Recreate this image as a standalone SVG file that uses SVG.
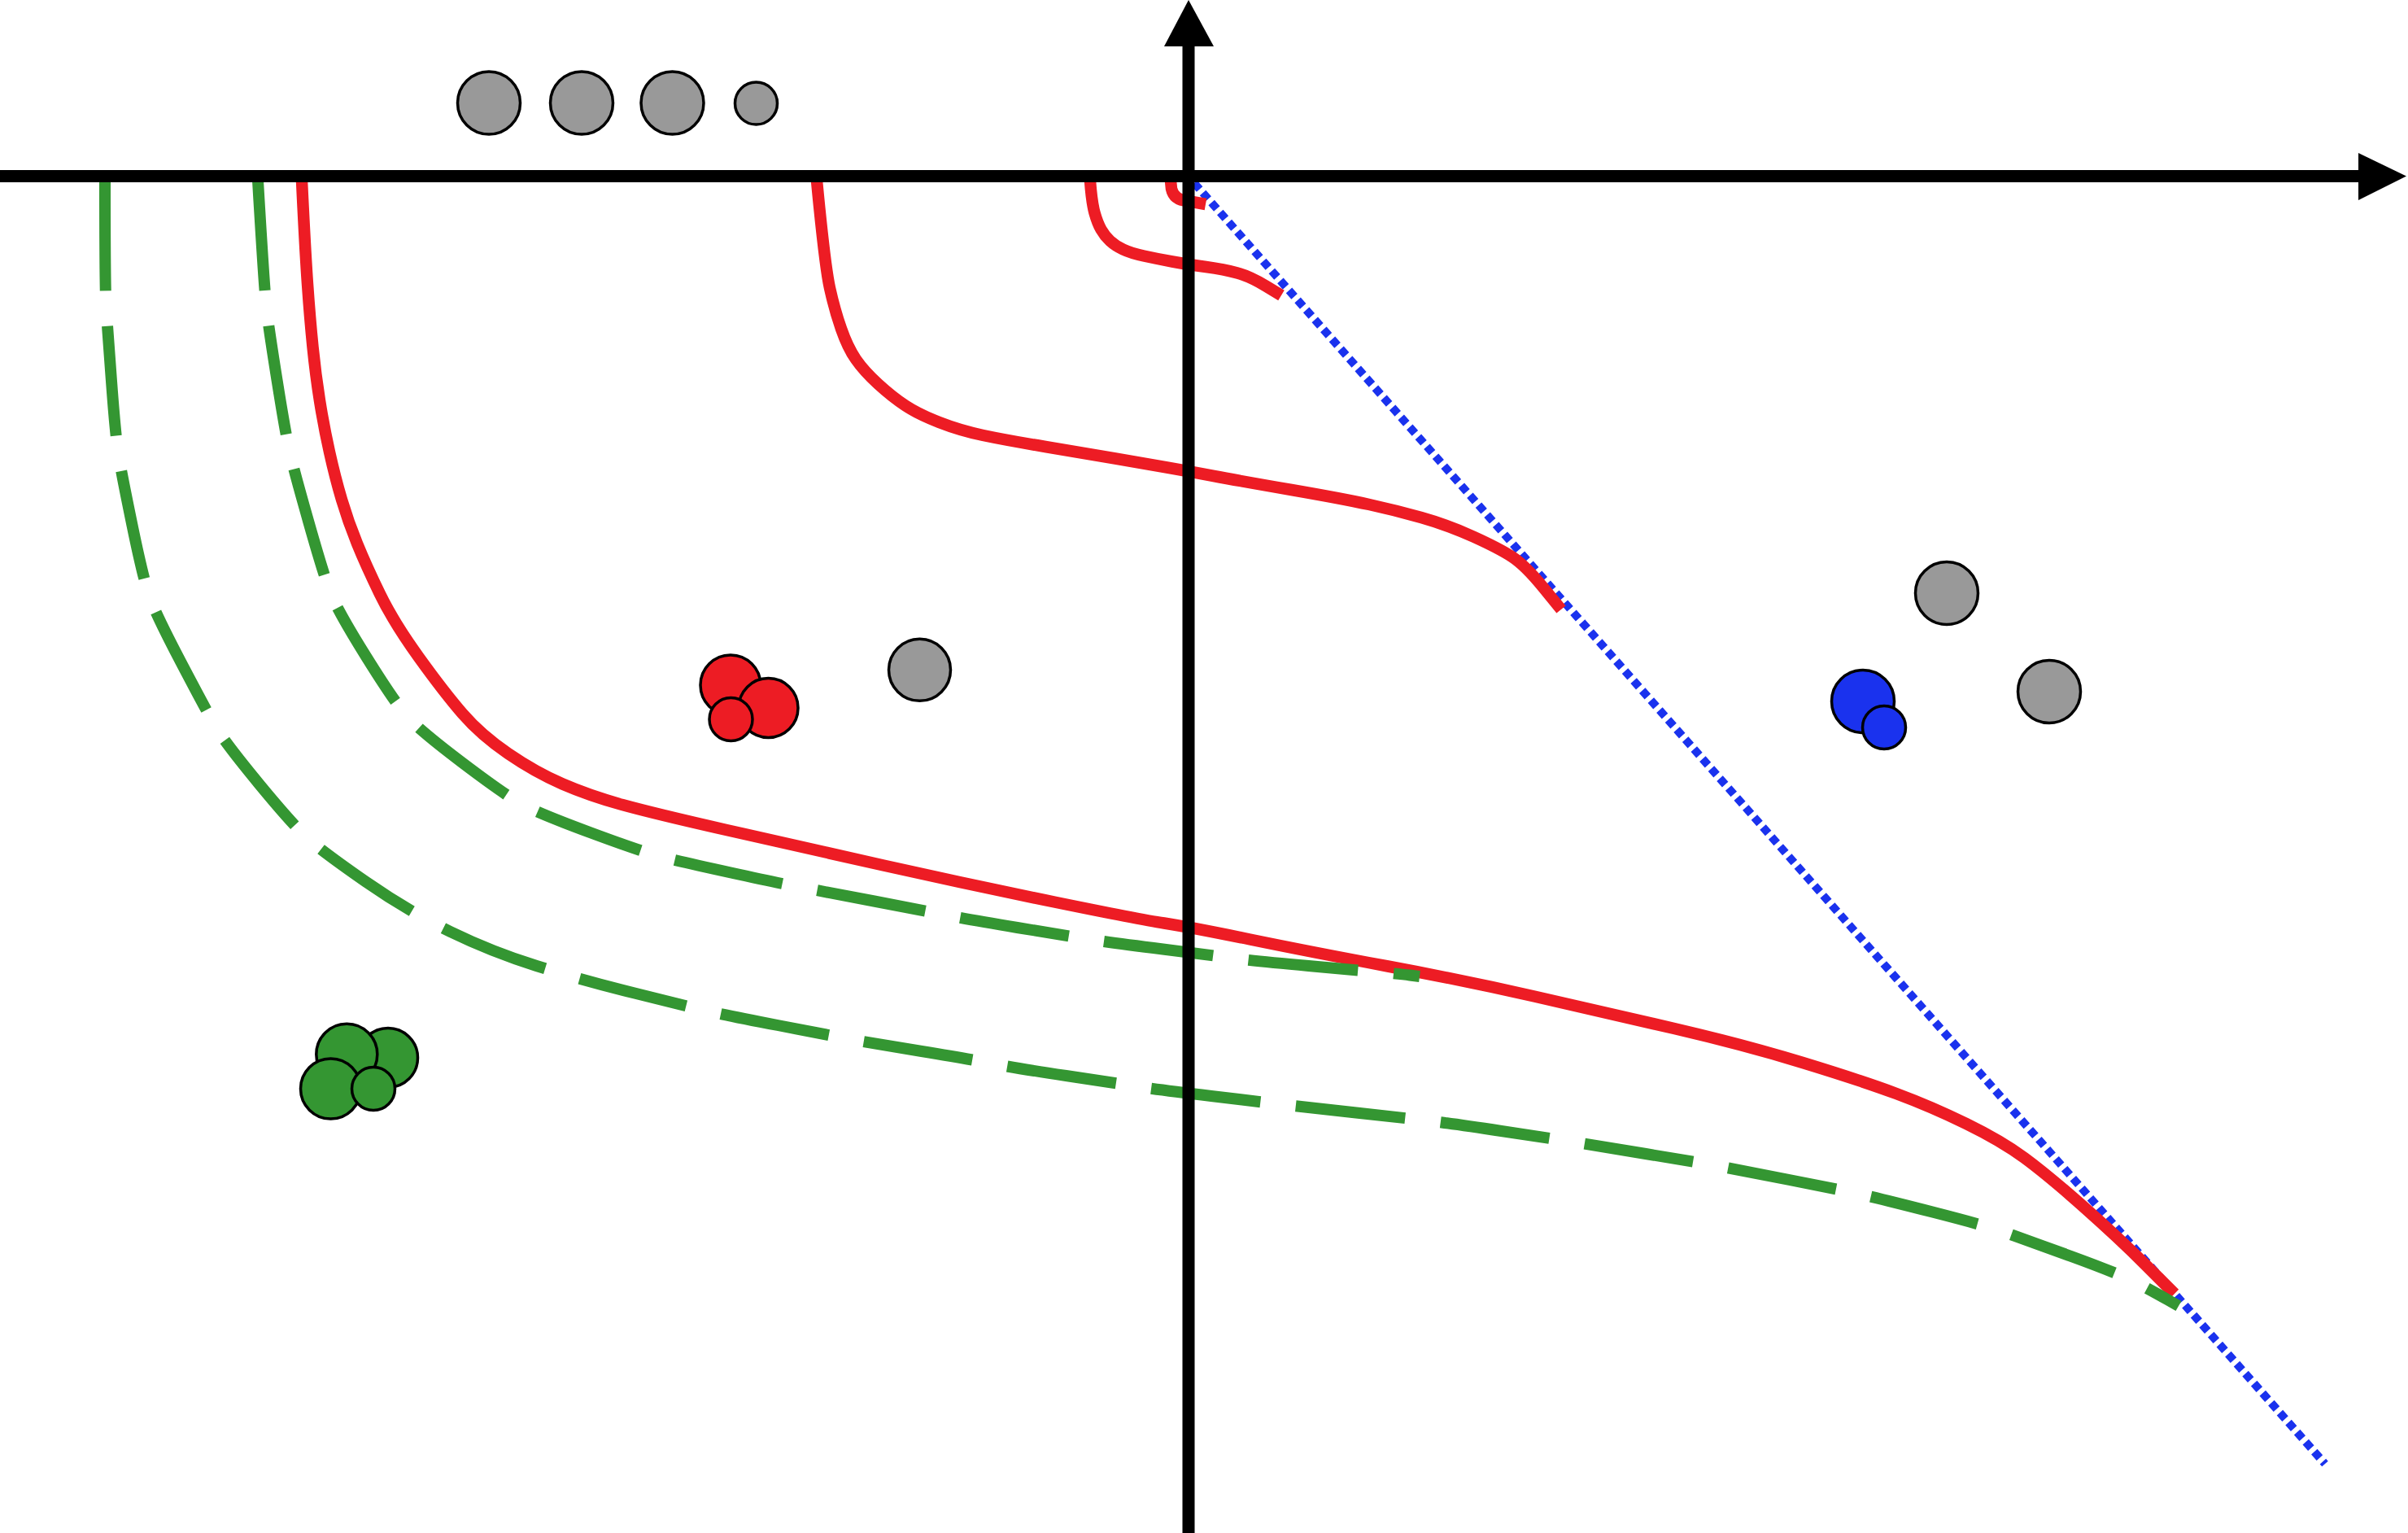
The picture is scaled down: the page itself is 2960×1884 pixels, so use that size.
<svg xmlns="http://www.w3.org/2000/svg" width="2960" height="1884" viewBox="0 0 2960 1884">
<style>
.c{stroke:#000;stroke-width:3.5}
.grey{fill:#999999}
.red{fill:#ED1C24}
.blue{fill:#1A32EE}
.green{fill:#349632}
.rc{fill:none;stroke:#ED1C24;stroke-width:14.5;stroke-linejoin:round}
.gc{fill:none;stroke:#349632;stroke-width:14;stroke-dasharray:135 44}
.bc{fill:none;stroke:#1A32EE;stroke-width:10;stroke-dasharray:10 6}
.ax{stroke:#000;stroke-width:15;fill:none}
</style>
<rect width="2960" height="1884" fill="#fff"/>
<g id="connectors">
<path class="bc" d="M1468,225 L2858,1799"/>
<path class="rc" d="M371,222 Q375,306 378,349 Q381,392 384.5,426.5 Q388,461 393,492.5 Q398,524 405,555.5 Q412,587 420,614 Q428,641 439,668 Q450,695 467,730 Q484,765 515,808 Q546,851 568.5,877 Q591,903 624.5,926 Q658,949 691.5,963.5 Q725,978 765,989 Q805,1000 893,1020 Q981,1040 1086,1063.5 Q1191,1087 1296,1108.5 Q1401,1130 1431,1134.5 Q1461,1139 1536.5,1154.5 Q1612,1170 1706,1187.5 Q1800,1205 1886,1224.5 Q1972,1244 2058,1264 Q2144,1284 2216,1306 Q2288,1328 2331,1344 Q2374,1360 2417,1381 Q2460,1402 2488.5,1423 Q2517,1444 2560.5,1482.5 Q2604,1521 2638.5,1555.5 L2673,1590"/>
<path class="rc" d="M1004,222 Q1014,327 1020,354 Q1026,381 1034,404 Q1042,427 1052,441.5 Q1062,456 1079.5,472 Q1097,488 1113,498.5 Q1129,509 1154.5,519 Q1180,529 1208.5,535 Q1237,541 1285,549 Q1333,557 1371,563.5 Q1409,570 1434.5,574.5 Q1460,579 1492,585 Q1524,591 1587.5,602 Q1651,613 1683,620 Q1715,627 1747,636 Q1779,645 1811,659.5 Q1843,674 1859,684.5 Q1875,695 1897,722 L1919,749"/>
<path class="rc" d="M1340,222 Q1342,249 1345.5,261.5 Q1349,274 1353.5,282 Q1358,290 1364.5,296 Q1371,302 1380.5,306.5 Q1390,311 1406,314.5 Q1422,318 1441,321.5 Q1460,325 1482.5,328 Q1505,331 1521,335.5 Q1537,340 1556,351.5 L1575,363"/>
<path class="rc" d="M1439,222 L1440,232 Q1443,246 1460,247 L1482,251"/>
<path class="gc" d="M129,222 Q129,357 130.5,379 Q132,401 137,468.5 Q142,536 145.5,558 Q149,580 162.5,645.5 Q176,711 183.5,732.5 Q191,754 222.5,814 Q254,874 265,893 Q276,912 318.5,963.5 Q361,1015 379,1031 Q397,1047 449.5,1083.5 Q502,1120 553.5,1145 Q605,1170 659.5,1187 Q714,1204 780,1220.5 Q846,1237 867.5,1242 Q889,1247 956,1260 Q1023,1273 1044.5,1277 Q1066,1281 1133,1292 Q1200,1303 1222,1307.5 Q1244,1312 1310.5,1322 Q1377,1332 1399.5,1335.5 Q1422,1339 1489,1347 Q1556,1355 1577.5,1357.5 Q1599,1360 1667,1367.5 Q1735,1375 1757,1377.5 Q1779,1380 1845.5,1390 Q1912,1400 1934,1403.5 Q1956,1407 2023,1418 Q2090,1429 2111.5,1433 Q2133,1437 2199.5,1450 Q2266,1463 2288.5,1468 Q2311,1473 2375.5,1489.5 Q2440,1506 2461.5,1513.5 Q2483,1521 2546,1544 Q2609,1567 2629.5,1578 Q2650,1589 2664,1597 L2678,1605"/>
<path class="gc" d="M317,222 Q325,357 327.5,379 Q330,401 340.5,467 Q351,533 356,555 Q361,577 379.5,642 Q398,707 406,728 Q414,749 449.5,806 Q485,863 500,880 Q515,897 568.5,937.5 Q622,978 642.5,989 Q663,1000 726.5,1023.5 Q790,1047 811,1052.5 Q832,1058 898.5,1072.5 Q965,1087 987,1091 Q1009,1095 1074.5,1107.5 Q1140,1120 1162,1124.5 Q1184,1129 1250.5,1140 Q1317,1151 1340,1154.5 Q1363,1158 1429.5,1166.5 Q1496,1175 1519,1178 Q1542,1181 1608.5,1187 Q1675,1193 1698,1195 Q1721,1197 1733,1198.5 L1745,1200"/>
</g>
<g id="axes">
<line class="ax" x1="0" y1="216.5" x2="2905" y2="216.5"/>
<polygon points="2958,216.5 2899,188 2899,246" fill="#000"/>
<line class="ax" x1="1461" y1="50" x2="1461" y2="1884"/>
<polygon points="1461,0 1431,57 1492,57" fill="#000"/>
</g>
<g id="top-grey">
<circle class="c grey" cx="601" cy="126.5" r="38.5"/>
<circle class="c grey" cx="715" cy="126.5" r="38.5"/>
<circle class="c grey" cx="826.5" cy="126.5" r="38.5"/>
<circle class="c grey" cx="929.5" cy="127" r="26"/>
</g>
<g id="red-cluster">
<circle class="c red" cx="898" cy="842" r="37"/>
<circle class="c red" cx="944.5" cy="870" r="36.5"/>
<circle class="c red" cx="898.5" cy="884" r="26.5"/>
</g>
<g id="grey-mid">
<circle class="c grey" cx="1130.5" cy="823.3" r="38"/>
</g>
<g id="green-cluster">
<circle class="c green" cx="477" cy="1300" r="36.5"/>
<circle class="c green" cx="426.3" cy="1295.7" r="37.5"/>
<circle class="c green" cx="406.5" cy="1338" r="37"/>
<circle class="c green" cx="459" cy="1338" r="26.5"/>
</g>
<g id="blue-cluster">
<circle class="c blue" cx="2290" cy="862" r="38.5"/>
<circle class="c blue" cx="2316" cy="894" r="26.5"/>
</g>
<g id="grey-right-top">
<circle class="c grey" cx="2393" cy="729" r="38.5"/>
</g>
<g id="grey-right">
<circle class="c grey" cx="2519" cy="850" r="38.5"/>
</g>
</svg>
